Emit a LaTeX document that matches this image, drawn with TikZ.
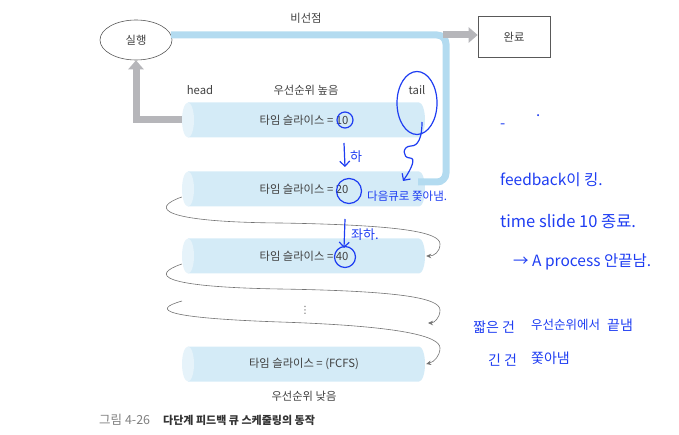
\documentclass[tikz,border=0pt]{standalone}
\usepackage{fontspec}
\setmainfont{Noto Sans CJK KR}
\newfontfamily\dejavu{DejaVu Sans}
\usetikzlibrary{arrows.meta,shapes.geometric,calc}
\definecolor{qbody}{HTML}{D4EBF7}
\definecolor{qend}{HTML}{E6F3FA}
\definecolor{bluel}{HTML}{B3DBF0}
\definecolor{grayl}{HTML}{B6B6BA}
\definecolor{txt}{HTML}{404040}
\definecolor{hwblue}{HTML}{1E3DF2}
\newcommand\kqueue[1]{%
  \fill[qbody] (188,#1-17.5) -- (419,#1-17.5) arc[start angle=-90,end angle=90,x radius=6,y radius=17.5] -- (188,#1+17.5) -- cycle;
  \fill[qend] (188,#1) ellipse[x radius=6,y radius=17.5];
}
\begin{document}
\begin{tikzpicture}[x=1pt,y=-1pt,
  every node/.style={text=txt, font=\fontsize{11.3}{13}\selectfont, inner sep=0pt},
  lbl/.style={minimum width=244pt, minimum height=35pt},
  grayarrow/.style={draw=grayl, line width=7pt, -{Triangle[width=15pt,length=9pt]}},
  blueline/.style={draw=bluel, line width=7pt, rounded corners=9pt},
  looparrow/.style={draw=black!55, line width=0.6pt, -{Stealth[length=5pt,width=4.5pt]}},
  hw/.style={draw=hwblue, line width=1.2pt},
  hwt/.style={text=hwblue, font=\fontsize{15}{17}\selectfont, anchor=west},
  hwc/.style={draw=hwblue, line width=1.2pt, circle}
]
\useasboundingbox (0,0) rectangle (679,435);

% queues
\kqueue{120}
\kqueue{189}
\kqueue{256}
\kqueue{364}

\node[lbl] (q1) at (304,120) {타임 슬라이스 = 10};
\node[lbl] (q2) at (304,189) {타임 슬라이스 = 20};
\node[lbl] (q3) at (304,256) {타임 슬라이스 = 40};
\node[lbl] (q4) at (304,364) {타임 슬라이스 = (FCFS)};
\node[font=\dejavu\fontsize{10}{12}\selectfont, text=black!60] (dots) at (305,310) {⋮};
\coordinate (dotsin) at (428,323);
\coordinate (dotsout) at (182,301);

% top elements
\node[draw=black!65, line width=0.6pt, ellipse, minimum width=72pt, minimum height=40pt] (run) at (136,40) {실행};
\node[draw=black!65, line width=0.6pt, minimum width=72pt, minimum height=41pt] (done) at (514,37) {완료};
\node at (306,18) {비선점};
\node at (200,90) {head};
\node at (306,90) {우선순위 높음};
\node (tail) at (417,90) {tail};
\node at (304,396) {우선순위 낮음};
\node[anchor=west, font=\fontsize{12.5}{14}\selectfont, text=black!50] (capnum) at (99,420) {그림 4-26};
\node[anchor=west, font=\bfseries\fontsize{11}{13}\selectfont, text=black!80] (cap) at (163,420) {다단계 피드백 큐 스케줄링의 동작};

% connectors
\coordinate (split) at (443,35);
\draw[blueline] ([shift={(-1.5,-5)}]run.east) -- (446,35) -- (446,182) -- (418,182);
\draw[grayarrow] (split) -- ([yshift=2pt]done.west);
\draw[grayarrow] (q1.west) -| (run.south);

\draw[looparrow] ([yshift=-8pt]q2.west) .. controls (150,208) and (160,222) .. (280,223)
   .. controls (400,225) and (440,232) .. (440,244) .. controls (440,252) and (434,256) .. (q3.east);
\draw[looparrow] ([yshift=-8pt]q3.west) .. controls (150,275) and (160,287) .. (280,289)
   .. controls (400,291) and (440,298) .. (440,310) .. controls (440,318) and (434,323) .. (dotsin);
\draw[looparrow] (dotsout) .. controls (150,310) and (165,318) .. (280,322)
   .. controls (400,326) and (440,336) .. (440,348) .. controls (440,356) and (434,362) .. (q4.east);

% handwriting
\node[hwc, minimum size=16pt] (c10) at (345,120) {};
\node[hwc, minimum size=25pt] (c20) at (349,191) {};
\node[hwc, minimum size=21pt] (c40) at (345,257) {};
\node[hw, ellipse, minimum width=40pt, minimum height=63pt] (tailc) at (417,103) {};
\draw[hw, -{Straight Barb[length=5pt]}] (422,122) .. controls (422,138) and (418,146) .. (411,146)
   .. controls (402,146) and (402,158) .. (410,158) .. controls (416,158) and (412,168) .. (403,181);
\draw[hw, -{Straight Barb[length=5pt]}] (344,143) -- (345,167);
\node[hwt, font=\fontsize{13}{15}\selectfont] at (350,157) {하};
\draw[hw, -{Straight Barb[length=5pt]}] (345,219) -- (344,248);
\node[hwt, font=\fontsize{13}{15}\selectfont] at (351,235) {좌하.};
\node[hwt, font=\fontsize{11.5}{13}\selectfont] at (367,196) {다음큐로 쫓아냄.};
\node[hwt] at (500,126) {-};
\node[hwt] at (536,116) {.};
\node[hwt, font=\fontsize{15.5}{17}\selectfont] at (500,180) {feedback이 킹.};
\node[hwt, font=\fontsize{16.5}{18}\selectfont] at (500,222) {time slide 10 종료.};
\node[hwt, font=\fontsize{15.5}{17}\selectfont] at (513,262) {→ A process 안끝남.};
\node[hwt, font=\fontsize{14}{16}\selectfont] at (473,327) {짧은 건};
\node[hwt, font=\fontsize{12.5}{14}\selectfont] at (531,325) {우선순위에서};
\node[hwt, font=\fontsize{14}{16}\selectfont] at (607,325) {끝냄};
\node[hwt, font=\fontsize{14}{16}\selectfont] at (488,360) {긴 건};
\node[hwt, font=\fontsize{14}{16}\selectfont] at (531,358) {쫓아냄};
\end{tikzpicture}
\end{document}
